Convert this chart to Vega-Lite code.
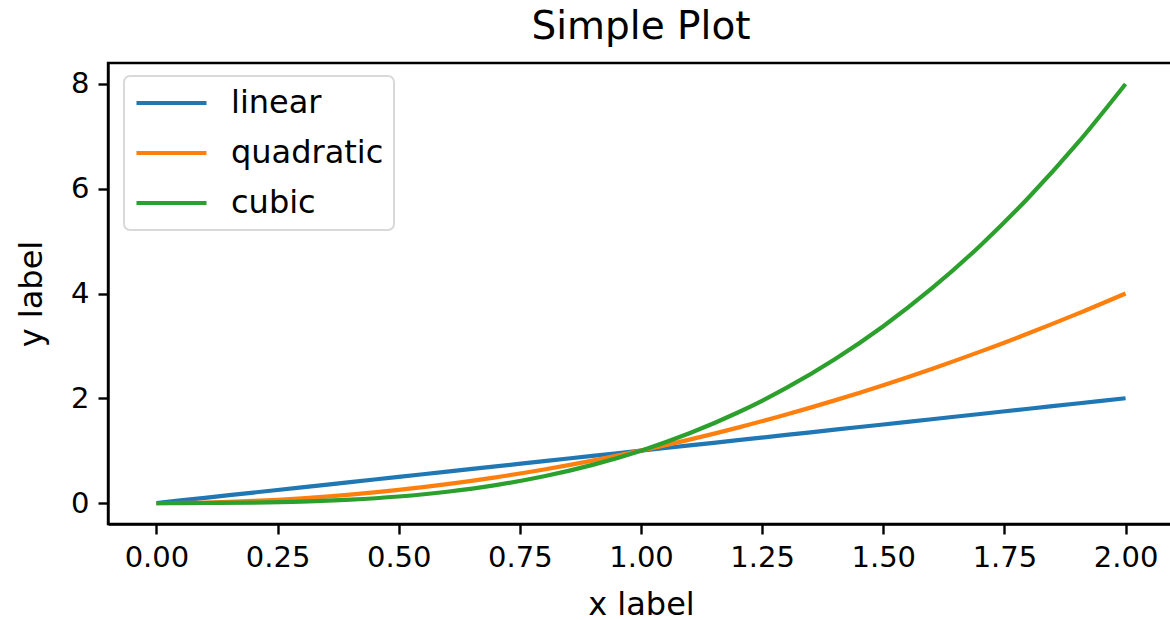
{
  "$schema": "https://vega.github.io/schema/vega-lite/v6.json",
  "autosize": "none",
  "width": 1066,
  "height": 461,
  "padding": {"left": 108, "top": 63, "right": 0, "bottom": 96},
  "background": "white",
  "config": {
    "font": "DejaVu Sans",
    "view": {"stroke": "black", "strokeWidth": 2.4},
    "axis": {
      "grid": false,
      "domainColor": "black",
      "domainWidth": 2.4,
      "tickColor": "black",
      "tickWidth": 2.4,
      "tickSize": 10,
      "labelPadding": 9,
      "labelFont": "DejaVu Sans",
      "labelFontSize": 29,
      "labelColor": "black",
      "titleFont": "DejaVu Sans",
      "titleFontSize": 32,
      "titleFontWeight": "normal",
      "titleColor": "black"
    },
    "legend": {"strokeWidth": 2}
  },
  "title": {
    "text": "Simple Plot",
    "font": "DejaVu Sans",
    "fontSize": 39,
    "fontWeight": "normal",
    "color": "black",
    "anchor": "middle",
    "offset": 16
  },
  "data": {
    "values": [
      {"x": 0.0, "y": 0.0, "series": "linear"},
      {"x": 0.1, "y": 0.1, "series": "linear"},
      {"x": 0.2, "y": 0.2, "series": "linear"},
      {"x": 0.3, "y": 0.3, "series": "linear"},
      {"x": 0.4, "y": 0.4, "series": "linear"},
      {"x": 0.5, "y": 0.5, "series": "linear"},
      {"x": 0.6, "y": 0.6, "series": "linear"},
      {"x": 0.7, "y": 0.7, "series": "linear"},
      {"x": 0.8, "y": 0.8, "series": "linear"},
      {"x": 0.9, "y": 0.9, "series": "linear"},
      {"x": 1.0, "y": 1.0, "series": "linear"},
      {"x": 1.1, "y": 1.1, "series": "linear"},
      {"x": 1.2, "y": 1.2, "series": "linear"},
      {"x": 1.3, "y": 1.3, "series": "linear"},
      {"x": 1.4, "y": 1.4, "series": "linear"},
      {"x": 1.5, "y": 1.5, "series": "linear"},
      {"x": 1.6, "y": 1.6, "series": "linear"},
      {"x": 1.7, "y": 1.7, "series": "linear"},
      {"x": 1.8, "y": 1.8, "series": "linear"},
      {"x": 1.9, "y": 1.9, "series": "linear"},
      {"x": 2.0, "y": 2.0, "series": "linear"},
      {"x": 0.0, "y": 0.0, "series": "quadratic"},
      {"x": 0.1, "y": 0.01, "series": "quadratic"},
      {"x": 0.2, "y": 0.04, "series": "quadratic"},
      {"x": 0.3, "y": 0.09, "series": "quadratic"},
      {"x": 0.4, "y": 0.16, "series": "quadratic"},
      {"x": 0.5, "y": 0.25, "series": "quadratic"},
      {"x": 0.6, "y": 0.36, "series": "quadratic"},
      {"x": 0.7, "y": 0.49, "series": "quadratic"},
      {"x": 0.8, "y": 0.64, "series": "quadratic"},
      {"x": 0.9, "y": 0.81, "series": "quadratic"},
      {"x": 1.0, "y": 1.0, "series": "quadratic"},
      {"x": 1.1, "y": 1.21, "series": "quadratic"},
      {"x": 1.2, "y": 1.44, "series": "quadratic"},
      {"x": 1.3, "y": 1.69, "series": "quadratic"},
      {"x": 1.4, "y": 1.96, "series": "quadratic"},
      {"x": 1.5, "y": 2.25, "series": "quadratic"},
      {"x": 1.6, "y": 2.56, "series": "quadratic"},
      {"x": 1.7, "y": 2.89, "series": "quadratic"},
      {"x": 1.8, "y": 3.24, "series": "quadratic"},
      {"x": 1.9, "y": 3.61, "series": "quadratic"},
      {"x": 2.0, "y": 4.0, "series": "quadratic"},
      {"x": 0.0, "y": 0.0, "series": "cubic"},
      {"x": 0.1, "y": 0.001, "series": "cubic"},
      {"x": 0.2, "y": 0.008, "series": "cubic"},
      {"x": 0.3, "y": 0.027, "series": "cubic"},
      {"x": 0.4, "y": 0.064, "series": "cubic"},
      {"x": 0.5, "y": 0.125, "series": "cubic"},
      {"x": 0.6, "y": 0.216, "series": "cubic"},
      {"x": 0.7, "y": 0.343, "series": "cubic"},
      {"x": 0.8, "y": 0.512, "series": "cubic"},
      {"x": 0.9, "y": 0.729, "series": "cubic"},
      {"x": 1.0, "y": 1.0, "series": "cubic"},
      {"x": 1.1, "y": 1.331, "series": "cubic"},
      {"x": 1.2, "y": 1.728, "series": "cubic"},
      {"x": 1.3, "y": 2.197, "series": "cubic"},
      {"x": 1.4, "y": 2.744, "series": "cubic"},
      {"x": 1.5, "y": 3.375, "series": "cubic"},
      {"x": 1.6, "y": 4.096, "series": "cubic"},
      {"x": 1.7, "y": 4.913, "series": "cubic"},
      {"x": 1.8, "y": 5.832, "series": "cubic"},
      {"x": 1.9, "y": 6.859, "series": "cubic"},
      {"x": 2.0, "y": 8.0, "series": "cubic"}
    ]
  },
  "mark": {"type": "line", "strokeWidth": 4.2, "interpolate": "monotone", "clip": true},
  "encoding": {
    "x": {
      "field": "x",
      "type": "quantitative",
      "scale": {"domain": [-0.1, 2.1], "nice": false, "zero": false},
      "axis": {
        "title": "x label",
        "values": [0, 0.25, 0.5, 0.75, 1, 1.25, 1.5, 1.75, 2],
        "format": ".2f",
        "titlePadding": 17
      }
    },
    "y": {
      "field": "y",
      "type": "quantitative",
      "scale": {"domain": [-0.4, 8.4], "nice": false, "zero": false},
      "axis": {
        "title": "y label",
        "values": [0, 2, 4, 6, 8],
        "format": "d",
        "titlePadding": 22
      }
    },
    "color": {
      "field": "series",
      "type": "nominal",
      "scale": {"domain": ["linear", "quadratic", "cubic"], "range": ["#1f77b4", "#ff7f0e", "#2ca02c"]},
      "legend": {
        "title": null,
        "orient": "none",
        "legendX": 16,
        "legendY": 13,
        "symbolType": "stroke",
        "symbolSize": 4900,
        "symbolStrokeWidth": 4.2,
        "clipHeight": 34,
        "labelFont": "DejaVu Sans",
        "labelFontSize": 32,
        "labelColor": "black",
        "labelOffset": 22,
        "rowPadding": 16,
        "padding": 10,
        "strokeColor": "#d9d9d9",
        "cornerRadius": 6,
        "fillColor": "white"
      }
    }
  }
}
